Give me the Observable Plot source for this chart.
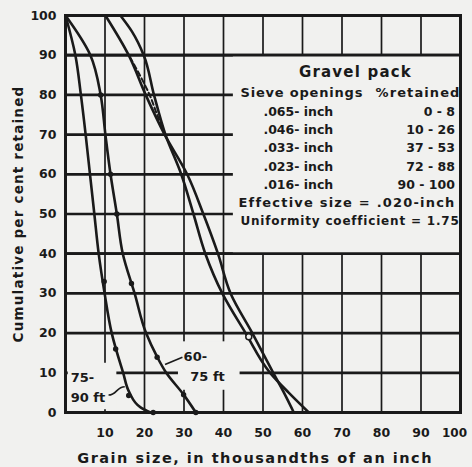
<!DOCTYPE html>
<html><head><meta charset="utf-8">
<script src="https://cdn.jsdelivr.net/npm/d3@7"></script>
<script src="https://cdn.jsdelivr.net/npm/@observablehq/plot@0.6"></script>
<style>
html,body{margin:0;padding:0;background:#f1f1ef;}
</style></head><body><div id="chart"></div>
<script>
// ---- data ----
const xTicks = [10, 20, 30, 40, 50, 60, 70, 80, 90];
const xTickLast = [100];
const yTicks = [0, 10, 20, 30, 40, 50, 60, 70, 80, 90, 100];
const gridX = [10, 20, 30, 40, 50, 60, 70, 80, 90];
const gridY = [10, 20, 30, 40, 50, 60, 70, 80, 90];

// 75-90 ft sample (grain size, cumulative % retained)
const depth75to90Size = [21.5, 19, 16.2, 14.6, 11.7, 9.9, 8.4, 7.3, 6.2, 5.1, 3.9, 2.5, 0];
const depth75to90Pct  = [0, 1.3, 5, 10, 20, 30, 40, 50, 60, 70, 80, 90, 100];
const depth75to90DotSize = [9.8, 12.7, 16, 22.2];
const depth75to90DotPct  = [33, 16, 4.3, 0];

// 60-75 ft sample
const depth60to75Size = [33, 29.9, 25.5, 23.2, 20.4, 17.5, 14.5, 13, 11.4, 10.1, 8.9, 6.3, 0];
const depth60to75Pct  = [0, 4.5, 10, 14, 20, 30, 40, 50, 60, 70, 80, 90, 100];
const depth60to75DotSize = [8.9, 11.4, 13, 16.7, 23.2, 29.9, 33];
const depth60to75DotPct  = [80, 60, 50, 32.5, 13.9, 4.5, 0];

// Gravel pack curves
const gravelASize = [57.8, 55.3, 52.6, 47.3, 41.8, 38.6, 34.9, 30.8, 25.1, 20.3, 16, 10.1];
const gravelAPct  = [0, 5, 10, 20, 30, 40, 50, 60, 70, 80, 90, 100];
const gravelBSize = [61.6, 56.5, 51.8, 45.6, 39.7, 35.4, 32.4, 29.3, 25.3, 22.4, 19.8, 16.8, 13.9];
const gravelBPct  = [0, 5, 10, 20, 30, 40, 50, 60, 70, 80, 90, 96, 100];
const gravelDashSize = [25.2, 23.2, 21.3, 18.8, 16];
const gravelDashPct  = [70, 75, 80, 85, 90];
const gravelCircleSize = [46.4];
const gravelCirclePct  = [19.1];

// legend table
const legendTitle = "Gravel pack";
const sieveHeader = "Sieve openings";
const retainedHeader = "%retained";
const sieveOpenings = [".065- inch", ".046- inch", ".033- inch", ".023- inch", ".016- inch"];
const percentRetained = ["0 - 8", "10 - 26", "37 - 53", "72 - 88", "90 - 100"];
const effectiveSize = "Effective size = .020-inch";
const uniformity = "Uniformity coefficient = 1.75";

const xTitle = "Grain size, in thousandths of an inch";
const yTitle = "Cumulative per cent retained";

// ---- build ----
const ink = "#1a1a1a", bg = "#f1f1ef";
const rows = (xs, ys, s) => xs.map((x, i) => ({x, y: ys[i], s})).sort((a, b) => a.y - b.y);
const solidCurves = [
  ...rows(depth75to90Size, depth75to90Pct, "75-90"),
  ...rows(depth60to75Size, depth60to75Pct, "60-75"),
  ...rows(gravelASize, gravelAPct, "gA"),
  ...rows(gravelBSize, gravelBPct, "gB")
];
const dashCurve = rows(gravelDashSize, gravelDashPct, "gD");
const dots = [...rows(depth75to90DotSize, depth75to90DotPct, "a"), ...rows(depth60to75DotSize, depth60to75DotPct, "b")];
const circles = rows(gravelCircleSize, gravelCirclePct, "c");

const rowY = [75.6, 71.1, 66.5, 61.9, 57.3];
const tableRows = sieveOpenings.map((s, i) => ({s, r: percentRetained[i], y: rowY[i]}));

const chart = Plot.plot({
  width: 472, height: 467,
  marginLeft: 65, marginRight: 12, marginTop: 15, marginBottom: 55,
  x: {domain: [0, 100], label: null},
  y: {domain: [0, 100], label: null},
  style: {background: bg, color: ink, fontFamily: "DejaVu Sans", fontWeight: "bold", fontSize: "12px"},
  marks: [
    Plot.ruleX(gridX, {stroke: ink, strokeWidth: 1.7}),
    Plot.ruleY(gridY, {stroke: ink, strokeWidth: 2.7}),
    // legend box and label clearings
    Plot.rect([0], {x1: 42.5, x2: 100, y1: 40, y2: 90, fill: bg}),
    Plot.rect([0], {x1: 0.7, x2: 13, y1: 0.7, y2: 12.4, fill: bg}),
    Plot.rect([0], {x1: 28.6, x2: 44.2, y1: 5.6, y2: 17.8, fill: bg}),
    Plot.ruleY([40, 90], {stroke: ink, strokeWidth: 2.7}),
    Plot.frame({stroke: ink, strokeWidth: 3}),
    Plot.line(solidCurves, {x: "x", y: "y", z: "s", curve: "monotone-y", stroke: ink, strokeWidth: 2.6}),
    Plot.line(dashCurve, {x: "x", y: "y", curve: "monotone-y", stroke: ink, strokeWidth: 2, strokeDasharray: "5,3"}),
    Plot.dot(dots, {x: "x", y: "y", r: 2.7, fill: ink}),
    Plot.dot(circles, {x: "x", y: "y", r: 3, stroke: ink, strokeWidth: 1.5, fill: bg}),
    // leaders
    Plot.link([0], {x1: 10.9, y1: 4.4, x2: 15, y2: 6.5, stroke: ink, strokeWidth: 1.6, curve: "bump-x"}),
    Plot.link([0], {x1: 29.6, y1: 13.9, x2: 25.2, y2: 12.1, stroke: ink, strokeWidth: 1.6}),
    // curve labels
    Plot.text(["75-\n90 ft"], {x: 1.3, y: 6.7, textAnchor: "start", lineHeight: 1.55, fontSize: 13}),
    Plot.text(["60-"], {x: 29.9, y: 14, textAnchor: "start", fontSize: 13}),
    Plot.text(["75 ft"], {x: 31.6, y: 8.9, textAnchor: "start", fontSize: 13}),
    // legend table
    Plot.text([legendTitle], {x: 73.4, y: 85.7, fontSize: 15}),
    Plot.text([sieveHeader], {x: 44.3, y: 80.4, textAnchor: "start", fontSize: 13}),
    Plot.text([retainedHeader], {x: 100, y: 80.4, textAnchor: "end", fontSize: 13}),
    Plot.text(tableRows, {x: 50.1, y: "y", text: "s", textAnchor: "start", fontSize: 12.5}),
    Plot.text(tableRows, {x: 98.6, y: "y", text: "r", textAnchor: "end", fontSize: 12.5}),
    Plot.text([effectiveSize], {x: 43.8, y: 52.9, textAnchor: "start", fontSize: 13}),
    Plot.text([uniformity], {x: 44.3, y: 48.2, textAnchor: "start", fontSize: 12}),
    // axes
    Plot.axisX(xTicks, {tickSize: 0, tickPadding: 16, fontSize: 12.5, label: null}),
    Plot.axisX(xTickLast, {tickSize: 0, tickPadding: 16, fontSize: 12, dx: -6, label: null}),
    Plot.axisY(yTicks, {tickSize: 0, tickPadding: 9, fontSize: 12.5, label: null}),
    Plot.text([xTitle], {x: 48, y: -11.6, fontSize: 14.5}),
    Plot.text([yTitle], {x: -11.9, y: 50, rotate: -90, fontSize: 13.5})
  ]
});

// letter spacing to match the wide hand lettering
const spacing = new Map([
  [legendTitle, "1.2px"], [sieveHeader, "0.8px"], [retainedHeader, "1.1px"],
  [effectiveSize, "1.2px"], [uniformity, "0.8px"],
  [xTitle, "1.5px"], [yTitle, "1.2px"]
]);
d3.select(chart).selectAll("text").each(function () {
  const s = spacing.get(this.textContent);
  if (s) this.style.letterSpacing = s;
});
document.getElementById("chart").append(chart);
</script>
</body></html>
